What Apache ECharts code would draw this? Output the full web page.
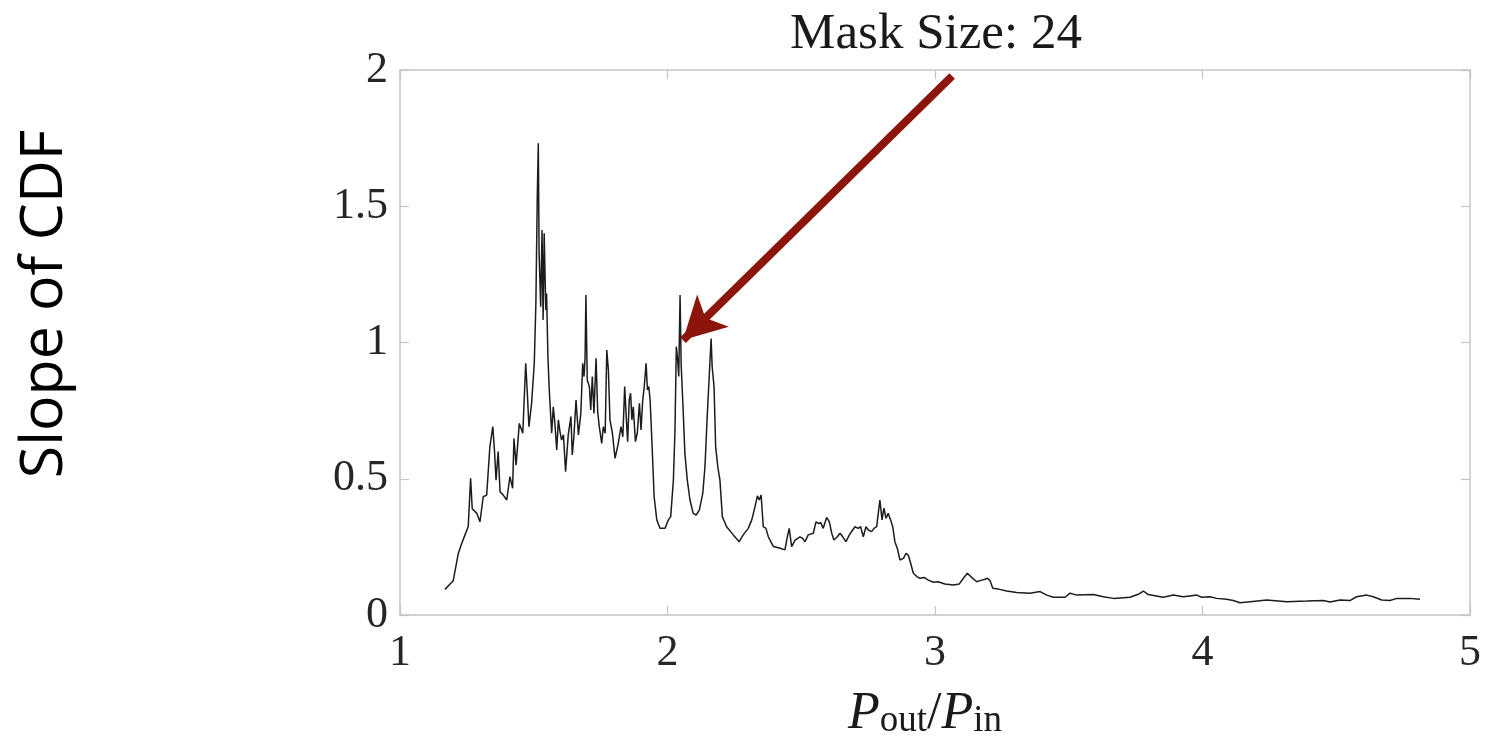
<!DOCTYPE html>
<html>
<head>
<meta charset="utf-8">
<style>
  html, body { margin: 0; padding: 0; background: #fff; }
  #chart { width: 1486px; height: 740px; }
</style>
<script src="https://cdn.jsdelivr.net/npm/echarts@6/dist/echarts.min.js"></script>
</head>
<body>
<div id="chart"></div>
<script>
// P_out / P_in ratio (x) and slope of the CDF (y)
const ratio = [
  1.168, 1.199, 1.218, 1.231, 1.243, 1.255, 1.264, 1.270, 1.287, 1.299,
  1.311, 1.324, 1.336, 1.347, 1.353, 1.359, 1.367, 1.374, 1.386, 1.399,
  1.411, 1.421, 1.426, 1.434, 1.446, 1.459, 1.470, 1.476, 1.482, 1.492,
  1.502, 1.508, 1.513, 1.517, 1.520, 1.526, 1.531, 1.535, 1.539, 1.545,
  1.548, 1.553, 1.558, 1.567, 1.573, 1.579, 1.586, 1.592, 1.598, 1.604,
  1.611, 1.619, 1.629, 1.639, 1.644, 1.650, 1.658, 1.667, 1.676, 1.683,
  1.688, 1.692, 1.695, 1.700, 1.708, 1.713, 1.719, 1.725, 1.733, 1.739,
  1.745, 1.754, 1.760, 1.767, 1.773, 1.779, 1.785, 1.794, 1.804, 1.816,
  1.826, 1.833, 1.840, 1.845, 1.851, 1.857, 1.862, 1.867, 1.872, 1.880,
  1.887, 1.895, 1.901, 1.907, 1.913, 1.920, 1.925, 1.930, 1.935, 1.942,
  1.950, 1.960, 1.972, 1.991, 2.003, 2.012, 2.022, 2.028, 2.033, 2.038,
  2.042, 2.047, 2.051, 2.058, 2.065, 2.074, 2.084, 2.096, 2.107, 2.119,
  2.132, 2.140, 2.149, 2.156, 2.163, 2.167, 2.174, 2.180, 2.188, 2.196,
  2.205, 2.221, 2.246, 2.268, 2.283, 2.302, 2.315, 2.327, 2.336, 2.343,
  2.350, 2.358, 2.368, 2.377, 2.396, 2.421, 2.439, 2.448, 2.455, 2.464,
  2.477, 2.495, 2.505, 2.514, 2.526, 2.545, 2.555, 2.564, 2.573, 2.582,
  2.595, 2.605, 2.614, 2.622, 2.635, 2.645, 2.655, 2.667, 2.680, 2.692,
  2.701, 2.713, 2.722, 2.732, 2.742, 2.751, 2.763, 2.772, 2.782, 2.794,
  2.802, 2.809, 2.817, 2.825, 2.834, 2.842, 2.850, 2.859, 2.869, 2.882,
  2.892, 2.900, 2.909, 2.919, 2.932, 2.944, 2.959, 2.975, 2.994, 3.012,
  3.019, 3.037, 3.068, 3.091, 3.106, 3.121, 3.137, 3.156, 3.175, 3.187,
  3.196, 3.206, 3.216, 3.237, 3.268, 3.305, 3.355, 3.393, 3.418, 3.442,
  3.486, 3.505, 3.530, 3.592, 3.629, 3.667, 3.729, 3.760, 3.779, 3.797,
  3.853, 3.891, 3.928, 3.953, 3.978, 3.997, 4.028, 4.053, 4.090, 4.115,
  4.140, 4.178, 4.240, 4.315, 4.390, 4.452, 4.477, 4.514, 4.551, 4.576,
  4.614, 4.638, 4.670, 4.701, 4.726, 4.776, 4.813
];
const slope = [
  0.094, 0.126, 0.226, 0.263, 0.294, 0.324, 0.502, 0.390, 0.373, 0.342,
  0.434, 0.440, 0.618, 0.691, 0.606, 0.495, 0.600, 0.452, 0.440, 0.422,
  0.508, 0.465, 0.648, 0.550, 0.703, 0.667, 0.924, 0.814, 0.691, 0.777,
  0.924, 1.144, 1.523, 1.731, 1.327, 1.131, 1.413, 1.083, 1.401, 1.119,
  1.180, 0.948, 0.826, 0.667, 0.764, 0.703, 0.606, 0.716, 0.673, 0.642,
  0.661, 0.526, 0.661, 0.728, 0.587, 0.654, 0.789, 0.661, 0.740, 0.924,
  0.875, 0.948, 1.174, 0.862, 0.838, 0.752, 0.875, 0.740, 0.942, 0.746,
  0.691, 0.630, 0.691, 0.667, 0.972, 0.899, 0.716, 0.667, 0.575, 0.630,
  0.691, 0.654, 0.838, 0.740, 0.636, 0.789, 0.814, 0.716, 0.764, 0.636,
  0.667, 0.777, 0.679, 0.783, 0.838, 0.924, 0.826, 0.838, 0.789, 0.630,
  0.434, 0.349, 0.318, 0.318, 0.349, 0.361, 0.495, 0.679, 0.985, 0.936,
  0.875, 1.174, 0.920, 0.764, 0.593, 0.495, 0.422, 0.373, 0.367, 0.385,
  0.447, 0.544, 0.740, 0.875, 1.015, 0.911, 0.838, 0.618, 0.544, 0.495,
  0.361, 0.324, 0.294, 0.269, 0.294, 0.318, 0.349, 0.397, 0.437, 0.422,
  0.440, 0.324, 0.318, 0.287, 0.251, 0.245, 0.239, 0.287, 0.318, 0.251,
  0.275, 0.287, 0.281, 0.269, 0.294, 0.300, 0.342, 0.336, 0.339, 0.318,
  0.358, 0.342, 0.300, 0.275, 0.287, 0.300, 0.287, 0.269, 0.294, 0.312,
  0.324, 0.318, 0.324, 0.287, 0.324, 0.312, 0.306, 0.318, 0.324, 0.422,
  0.349, 0.392, 0.355, 0.373, 0.349, 0.324, 0.269, 0.245, 0.202, 0.208,
  0.226, 0.220, 0.190, 0.153, 0.141, 0.135, 0.138, 0.128, 0.120, 0.122,
  0.122, 0.114, 0.110, 0.114, 0.135, 0.153, 0.138, 0.122, 0.128, 0.131,
  0.135, 0.126, 0.098, 0.095, 0.088, 0.083, 0.080, 0.086, 0.073, 0.065,
  0.065, 0.080, 0.073, 0.075, 0.067, 0.061, 0.065, 0.076, 0.088, 0.075,
  0.065, 0.073, 0.067, 0.070, 0.073, 0.065, 0.067, 0.061, 0.058, 0.053,
  0.045, 0.049, 0.055, 0.049, 0.051, 0.053, 0.048, 0.055, 0.053, 0.067,
  0.073, 0.067, 0.055, 0.053, 0.061, 0.061, 0.058
];

// Axis ranges and ticks
const xTicks = [1, 2, 3, 4, 5];
const yTicks = [0, 0.5, 1, 1.5, 2];

// Annotation arrow: tail and head in data units
const arrowTail = [3.064, 1.978];
const arrowHead = [2.058, 1.009];

const titleText = 'Mask Size: 24';
const yName = 'Slope of CDF';

const SERIF = '"Liberation Serif", "Times New Roman", serif';
const BOX = '#c4c4c4';

const points = ratio.map((x, i) => [x, slope[i]]);

function frameAxis(base, extra) {
  return Object.assign({
    type: 'value',
    splitLine: { show: false },
    axisLine: { show: true, onZero: false, lineStyle: { color: BOX, width: 1.5 } },
    axisTick: { show: true, inside: true, length: 9, lineStyle: { color: BOX, width: 1.2 } }
  }, base, extra);
}

const chart = echarts.init(document.getElementById('chart'), null, { renderer: 'canvas' });

chart.setOption({
  animation: false,
  backgroundColor: '#ffffff',
  grid: { left: 400, right: 16, top: 70, bottom: 125, containLabel: false },
  xAxis: [
    frameAxis({ min: xTicks[0], max: xTicks[xTicks.length - 1], interval: 1, position: 'bottom' }, {
      axisLabel: { fontFamily: SERIF, fontSize: 44, color: '#262626', margin: 16,
                   formatter: v => String(v) }
    }),
    frameAxis({ min: xTicks[0], max: xTicks[xTicks.length - 1], interval: 1, position: 'top' }, {
      axisLabel: { show: false }
    })
  ],
  yAxis: [
    frameAxis({ min: yTicks[0], max: yTicks[yTicks.length - 1], interval: 0.5, position: 'left' }, {
      axisLabel: { fontFamily: SERIF, fontSize: 44, color: '#262626', margin: 12,
                   formatter: v => String(v) }
    }),
    frameAxis({ min: yTicks[0], max: yTicks[yTicks.length - 1], interval: 0.5, position: 'right' }, {
      axisLabel: { show: false }
    })
  ],
  series: [{
    type: 'line',
    data: points,
    xAxisIndex: 0,
    yAxisIndex: 0,
    showSymbol: false,
    symbol: 'none',
    smooth: false,
    lineStyle: { color: '#1c1c1c', width: 1.5 },
    silent: true,
    markLine: {
      silent: true,
      symbol: ['none', 'arrow'],
      symbolSize: [34, 42],
      label: { show: false },
      lineStyle: { color: '#8b1508', width: 8, type: 'solid' },
      emphasis: { disabled: true },
      data: [[{ coord: arrowTail }, { coord: arrowHead }]]
    }
  }],
  graphic: [
    {
      type: 'text',
      x: 936, y: 35,
      style: {
        text: titleText,
        font: '51px ' + SERIF,
        fill: '#1a1a1a',
        textAlign: 'center',
        textVerticalAlign: 'middle'
      }
    },
    {
      type: 'text',
      x: 45, y: 304,
      rotation: Math.PI / 2,
      style: {
        text: yName,
        font: '59px "Open Sans", "Noto Sans", sans-serif',
        fill: '#000000',
        textAlign: 'center',
        textVerticalAlign: 'middle'
      }
    },
    {
      type: 'text',
      x: 925, y: 710,
      style: {
        text: '{p|P}{sub|out}{s|/}{p|P}{sub|in}',
        textAlign: 'center',
        textVerticalAlign: 'middle',
        fill: '#1a1a1a',
        rich: {
          p: { fontFamily: SERIF, fontStyle: 'italic', fontSize: 52, lineHeight: 60, verticalAlign: 'bottom', fill: '#1a1a1a' },
          s: { fontFamily: SERIF, fontSize: 52, lineHeight: 60, verticalAlign: 'bottom', fill: '#1a1a1a' },
          sub: { fontFamily: SERIF, fontSize: 37, lineHeight: 38, verticalAlign: 'bottom', fill: '#1a1a1a' }
        }
      }
    }
  ]
});
</script>
</body>
</html>
